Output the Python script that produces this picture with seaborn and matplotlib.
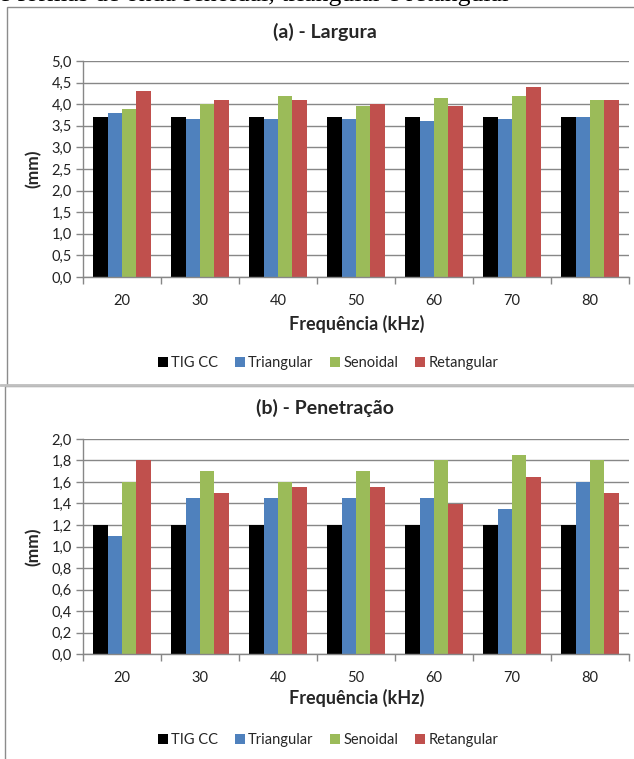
import matplotlib
matplotlib.use("Agg")
import matplotlib.pyplot as plt
import matplotlib.ticker as mticker
from matplotlib.patches import Rectangle
from matplotlib.lines import Line2D
import seaborn as sns
import pandas as pd

# Welding bead measurements per pulse frequency and waveform
frequencias = ["20", "30", "40", "50", "60", "70", "80"]
formas = ["TIG CC", "Triangular", "Senoidal", "Retangular"]

largura_tig = [3.7, 3.7, 3.7, 3.7, 3.7, 3.7, 3.7]
largura_tri = [3.8, 3.65, 3.65, 3.65, 3.6, 3.65, 3.7]
largura_sen = [3.9, 4.0, 4.2, 3.95, 4.15, 4.2, 4.1]
largura_ret = [4.3, 4.1, 4.1, 4.0, 3.95, 4.4, 4.1]

penetracao_tig = [1.2, 1.2, 1.2, 1.2, 1.2, 1.2, 1.2]
penetracao_tri = [1.1, 1.45, 1.45, 1.45, 1.45, 1.35, 1.6]
penetracao_sen = [1.6, 1.7, 1.6, 1.7, 1.8, 1.85, 1.8]
penetracao_ret = [1.8, 1.5, 1.55, 1.55, 1.4, 1.65, 1.5]

cores = ["#000000", "#4F81BD", "#9BBB59", "#C0504D"]

titulos = ["(a) - Largura", "(b) - Penetração"]
eixo_x = "Frequência (kHz)"
eixo_y = "(mm)"
legenda = "e formas de onda senoidal, triangular e retangular"

sns.set_theme(style="white")
plt.rcParams["font.family"] = ["Lato", "DejaVu Sans"]

W, H = 634, 759
fig = plt.figure(figsize=(W / 100, H / 100), dpi=100)


def fx(px):
    return px / W


def fy(py):
    return 1 - py / H


def long_table(series):
    rows = []
    for forma, valores in zip(formas, series):
        for f, v in zip(frequencias, valores):
            rows.append({"freq": f, "forma": forma, "mm": v})
    return pd.DataFrame(rows)


# panel frames
fig.patches.append(Rectangle((fx(7), fy(385)), fx(640), fy(7) - fy(385),
                             transform=fig.transFigure, fill=False,
                             edgecolor="#8c8c8c", linewidth=1.0))
fig.patches.append(Rectangle((fx(5), fy(770)), fx(640), fy(386) - fy(770),
                             transform=fig.transFigure, fill=False,
                             edgecolor="#8c8c8c", linewidth=1.0))
fig.add_artist(Line2D([0, 1], [fy(385.5), fy(385.5)], transform=fig.transFigure,
                      color="#c0c0c0", linewidth=2.0))

# caption line running off the top edge of the page
fig.text(fx(-1), fy(1.0), legenda, family="Liberation Serif", fontsize=18.5,
         va="baseline", ha="left", color="black")

paineis = [
    dict(series=[largura_tig, largura_tri, largura_sen, largura_ret],
         top=61, bottom=277, ymax=5.0, step=0.5,
         title_y=32, xlab_y=324, leg_y=363),
    dict(series=[penetracao_tig, penetracao_tri, penetracao_sen, penetracao_ret],
         top=439, bottom=654, ymax=2.0, step=0.2,
         title_y=408, xlab_y=698, leg_y=740),
]

grid_col = "#878787"

for titulo, p in zip(titulos, paineis):
    ax = fig.add_axes([fx(83), fy(p["bottom"]), fx(629 - 83),
                       fy(p["top"]) - fy(p["bottom"])])
    df = long_table(p["series"])
    sns.barplot(data=df, x="freq", y="mm", hue="forma", hue_order=formas,
                order=frequencias, palette=cores, width=0.74, linewidth=0,
                errorbar=None, ax=ax, legend=False, saturation=1)
    ax.set_xlim(-0.5, len(frequencias) - 0.5)
    ax.set_ylim(0, p["ymax"])
    ax.yaxis.set_major_locator(mticker.MultipleLocator(p["step"]))
    ax.yaxis.set_major_formatter(
        mticker.FuncFormatter(lambda v, _: f"{v:.1f}".replace(".", ",")))
    ax.grid(axis="y", color=grid_col, linewidth=1.0)
    ax.set_axisbelow(True)
    for s in ["top", "right"]:
        ax.spines[s].set_visible(False)
    for s in ["left", "bottom"]:
        ax.spines[s].set_color(grid_col)
        ax.spines[s].set_linewidth(1.0)
    ax.tick_params(axis="y", which="major", left=True, length=5, width=1,
                   color=grid_col, pad=3, labelsize=10.5, labelcolor="#222222")
    ax.set_xticks(range(len(frequencias)))
    ax.set_xticklabels(frequencias)
    ax.tick_params(axis="x", which="major", bottom=False, length=0, pad=12,
                   labelsize=10.5, labelcolor="#222222")
    ax.set_xticks([i - 0.5 for i in range(len(frequencias) + 1)], minor=True)
    ax.tick_params(axis="x", which="minor", bottom=True, length=5, width=1,
                   color=grid_col)
    ax.set_xlabel("")
    ax.set_ylabel(eixo_y, fontsize=12.5, fontweight="bold", labelpad=7)

    fig.text(fx(325), fy(p["title_y"]), titulo, ha="center", va="center",
             fontsize=14, fontweight="bold")
    fig.text(fx(357), fy(p["xlab_y"]), eixo_x, ha="center", va="center",
             fontsize=13, fontweight="bold")

    handles = [Line2D([], [], marker="s", linestyle="", markersize=7.5,
                      markerfacecolor=c, markeredgewidth=0) for c in cores]
    fig.legend(handles, formas, loc="center", ncol=4,
               bbox_to_anchor=(fx(327), fy(p["leg_y"])), frameon=False,
               fontsize=10.5, handletextpad=0.05, columnspacing=1.0,
               handlelength=1.0)

fig.savefig("out.png", dpi=100)
